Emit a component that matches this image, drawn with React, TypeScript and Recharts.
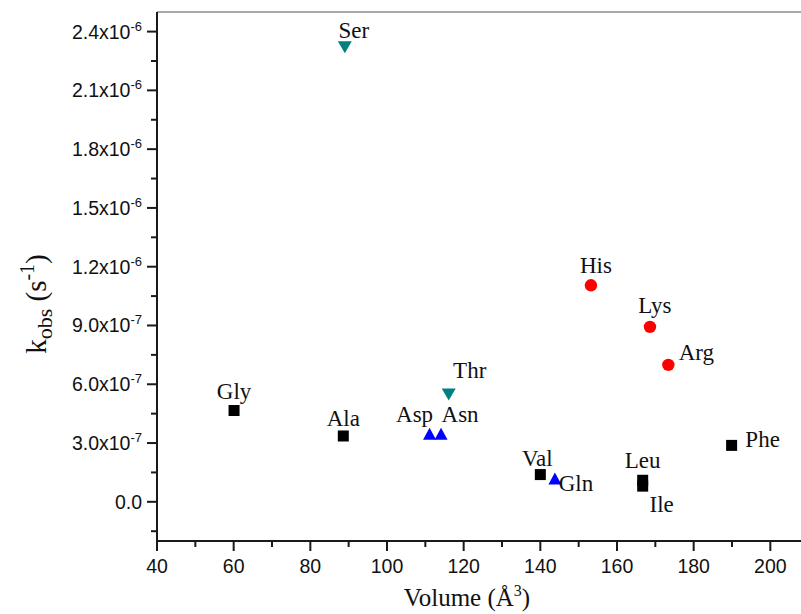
import React from 'react';
import { ScatterChart, Scatter, XAxis, YAxis, ReferenceLine } from 'recharts';

// ---- data ----
const blackNames = ['Gly', 'Ala', 'Val', 'Leu', 'Ile', 'Phe'];
const blackVolume = [60.1, 88.6, 140.0, 166.7, 166.7, 189.9];
const blackK = [4.66e-7, 3.36e-7, 1.39e-7, 1.1e-7, 0.8e-7, 2.88e-7];

const blueNames = ['Asp', 'Asn', 'Gln'];
const blueVolume = [111.1, 114.1, 143.8];
const blueK = [3.48e-7, 3.48e-7, 1.19e-7];

const redNames = ['His', 'Lys', 'Arg'];
const redVolume = [153.2, 168.6, 173.4];
const redK = [1.105e-6, 8.93e-7, 6.99e-7];

const tealNames = ['Ser', 'Thr'];
const tealVolume = [89.0, 116.1];
const tealK = [2.32e-6, 5.48e-7];

const xMajorTicks = [40, 60, 80, 100, 120, 140, 160, 180, 200];
const xMinorTicks = [50, 70, 90, 110, 130, 150, 170, 190];
const yMajorTicks = [0, 3e-7, 6e-7, 9e-7, 1.2e-6, 1.5e-6, 1.8e-6, 2.1e-6, 2.4e-6];
const yMinorTicks = [-1.5e-7, 1.5e-7, 4.5e-7, 7.5e-7, 1.05e-6, 1.35e-6, 1.65e-6, 1.95e-6, 2.25e-6];

// label placement (offset from marker centre, text baseline)
const labelOffsets: Record<string, [number, number]> = {
  Gly: [0, -12],
  Ala: [0, -10],
  Val: [-3, -9],
  Leu: [0, -12],
  Ile: [19, 26],
  Phe: [31, 2],
  Asp: [-15, -12],
  Asn: [19, -12],
  Gln: [21, 13],
  His: [5, -12],
  Lys: [5, -14],
  Arg: [28, -5],
  Ser: [9, -9],
  Thr: [21, -16],
};

const build = (names: string[], xs: number[], ys: number[]) =>
  names.map((n, i) => ({ name: n, x: xs[i], y: ys[i] }));

const blackData = build(blackNames, blackVolume, blackK);
const blueData = build(blueNames, blueVolume, blueK);
const redData = build(redNames, redVolume, redK);
const tealData = build(tealNames, tealVolume, tealK);

const xTicks = [...xMajorTicks, ...xMinorTicks].sort((a, b) => a - b);
const yTicks = [...yMajorTicks, ...yMinorTicks].sort((a, b) => a - b);

const SERIF = '"Liberation Serif", "Times New Roman", serif';
const SANS = '"Liberation Sans", Arial, sans-serif';
const AXIS = '#1a1a1a';

const isMajor = (arr: number[], v: number) => arr.some((m) => Math.abs(m - v) < 1e-12 + Math.abs(m) * 1e-6);

const PointLabel = ({ cx, cy, name }: { cx: number; cy: number; name: string }) => {
  const off = labelOffsets[name] || [0, -12];
  return (
    <text x={cx + off[0]} y={cy + off[1]} textAnchor="middle" fontFamily={SERIF} fontSize={23} fill="#111">
      {name}
    </text>
  );
};

const squareShape = (props: any) => {
  const { cx, cy, payload } = props;
  const s = 11;
  return (
    <g>
      <rect x={cx - s / 2} y={cy - s / 2} width={s} height={s} fill="#000" />
      <PointLabel cx={cx} cy={cy} name={payload.name} />
    </g>
  );
};

const upTriShape = (props: any) => {
  const { cx, cy, payload } = props;
  const w = 13, h = 12;
  return (
    <g>
      <polygon points={`${cx - w / 2},${cy + h / 2} ${cx + w / 2},${cy + h / 2} ${cx},${cy - h / 2}`} fill="#0000ff" />
      <PointLabel cx={cx} cy={cy} name={payload.name} />
    </g>
  );
};

const downTriShape = (props: any) => {
  const { cx, cy, payload } = props;
  const w = 14, h = 12;
  return (
    <g>
      <polygon points={`${cx - w / 2},${cy - h / 2} ${cx + w / 2},${cy - h / 2} ${cx},${cy + h / 2}`} fill="#008080" />
      <PointLabel cx={cx} cy={cy} name={payload.name} />
    </g>
  );
};

const circleShape = (props: any) => {
  const { cx, cy, payload } = props;
  return (
    <g>
      <circle cx={cx} cy={cy} r={6.2} fill="#ff0000" />
      <PointLabel cx={cx} cy={cy} name={payload.name} />
    </g>
  );
};

const XTick = (props: any) => {
  const { x, y, payload } = props;
  const v = payload.value;
  const major = isMajor(xMajorTicks, v);
  return (
    <g>
      <line x1={x} y1={y} x2={x} y2={y + (major ? 10 : 6)} stroke={AXIS} strokeWidth={2} />
      {major && (
        <text x={x} y={y + 32} textAnchor="middle" fontFamily={SANS} fontSize={19.5} fill="#111">
          {v}
        </text>
      )}
    </g>
  );
};

const YTick = (props: any) => {
  const { x, y, payload } = props;
  const v = payload.value;
  const major = isMajor(yMajorTicks, v);
  let mant = '0.0';
  let exp: number | null = null;
  if (Math.abs(v) > 1e-15) {
    exp = Math.floor(Math.log10(Math.abs(v)) + 1e-9);
    mant = (v / Math.pow(10, exp)).toFixed(1);
  }
  return (
    <g>
      <line x1={x - (major ? 10 : 6)} y1={y} x2={x} y2={y} stroke={AXIS} strokeWidth={2} />
      {major && (
        <text x={x - 15} y={y + 7} textAnchor="end" fontFamily={SANS} fontSize={19.5} fill="#111">
          {exp === null ? (
            mant
          ) : (
            <>
              <tspan>{`${mant}x10`}</tspan>
              <tspan dy={-8} fontSize={13}>{`${exp}`}</tspan>
            </>
          )}
        </text>
      )}
    </g>
  );
};

const YTitle = () => (
  <text transform="translate(46,304) rotate(-90)" textAnchor="middle" fontFamily={SERIF} fontSize={29} fill="#111">
    <tspan>k</tspan>
    <tspan dy={6} fontSize={22}>obs</tspan>
    <tspan dy={-6}> (s</tspan>
    <tspan dy={-12} fontSize={20}>-1</tspan>
    <tspan dy={12}>)</tspan>
  </text>
);

const XTitle = () => (
  <text x={467} y={606} textAnchor="middle" fontFamily={SERIF} fontSize={25} fill="#111">
    <tspan>Volume (Å</tspan>
    <tspan dy={-10} fontSize={16}>3</tspan>
    <tspan dy={10}>)</tspan>
  </text>
);

export default function App() {
  return (
    <div style={{ position: 'absolute', left: 0, top: 0, width: 801, height: 614, background: '#fff', overflow: 'hidden' }}>
      <ScatterChart width={801} height={614} margin={{ top: 12, right: 0, bottom: 0, left: 0 }}>
        <XAxis
          type="number"
          dataKey="x"
          domain={[40, 208]}
          allowDataOverflow
          ticks={xTicks}
          interval={0}
          tickSize={0}
          tickMargin={0}
          tick={<XTick />}
          axisLine={{ stroke: AXIS, strokeWidth: 2 }}
          tickLine={false}
          height={73}
        />
        <YAxis
          type="number"
          dataKey="y"
          domain={[-2e-7, 2.5e-6]}
          allowDataOverflow
          ticks={yTicks}
          interval={0}
          tickSize={0}
          tickMargin={0}
          tick={<YTick />}
          axisLine={{ stroke: AXIS, strokeWidth: 2 }}
          tickLine={false}
          width={157}
        />
        <ReferenceLine y={2.5e-6} stroke="#a8a8a8" strokeWidth={2} />
        <Scatter data={blackData} shape={squareShape} isAnimationActive={false} />
        <Scatter data={blueData} shape={upTriShape} isAnimationActive={false} />
        <Scatter data={redData} shape={circleShape} isAnimationActive={false} />
        <Scatter data={tealData} shape={downTriShape} isAnimationActive={false} />
      </ScatterChart>
      <svg width={801} height={614} style={{ position: 'absolute', left: 0, top: 0, pointerEvents: 'none' }}>
        <YTitle />
        <XTitle />
      </svg>
    </div>
  );
}
